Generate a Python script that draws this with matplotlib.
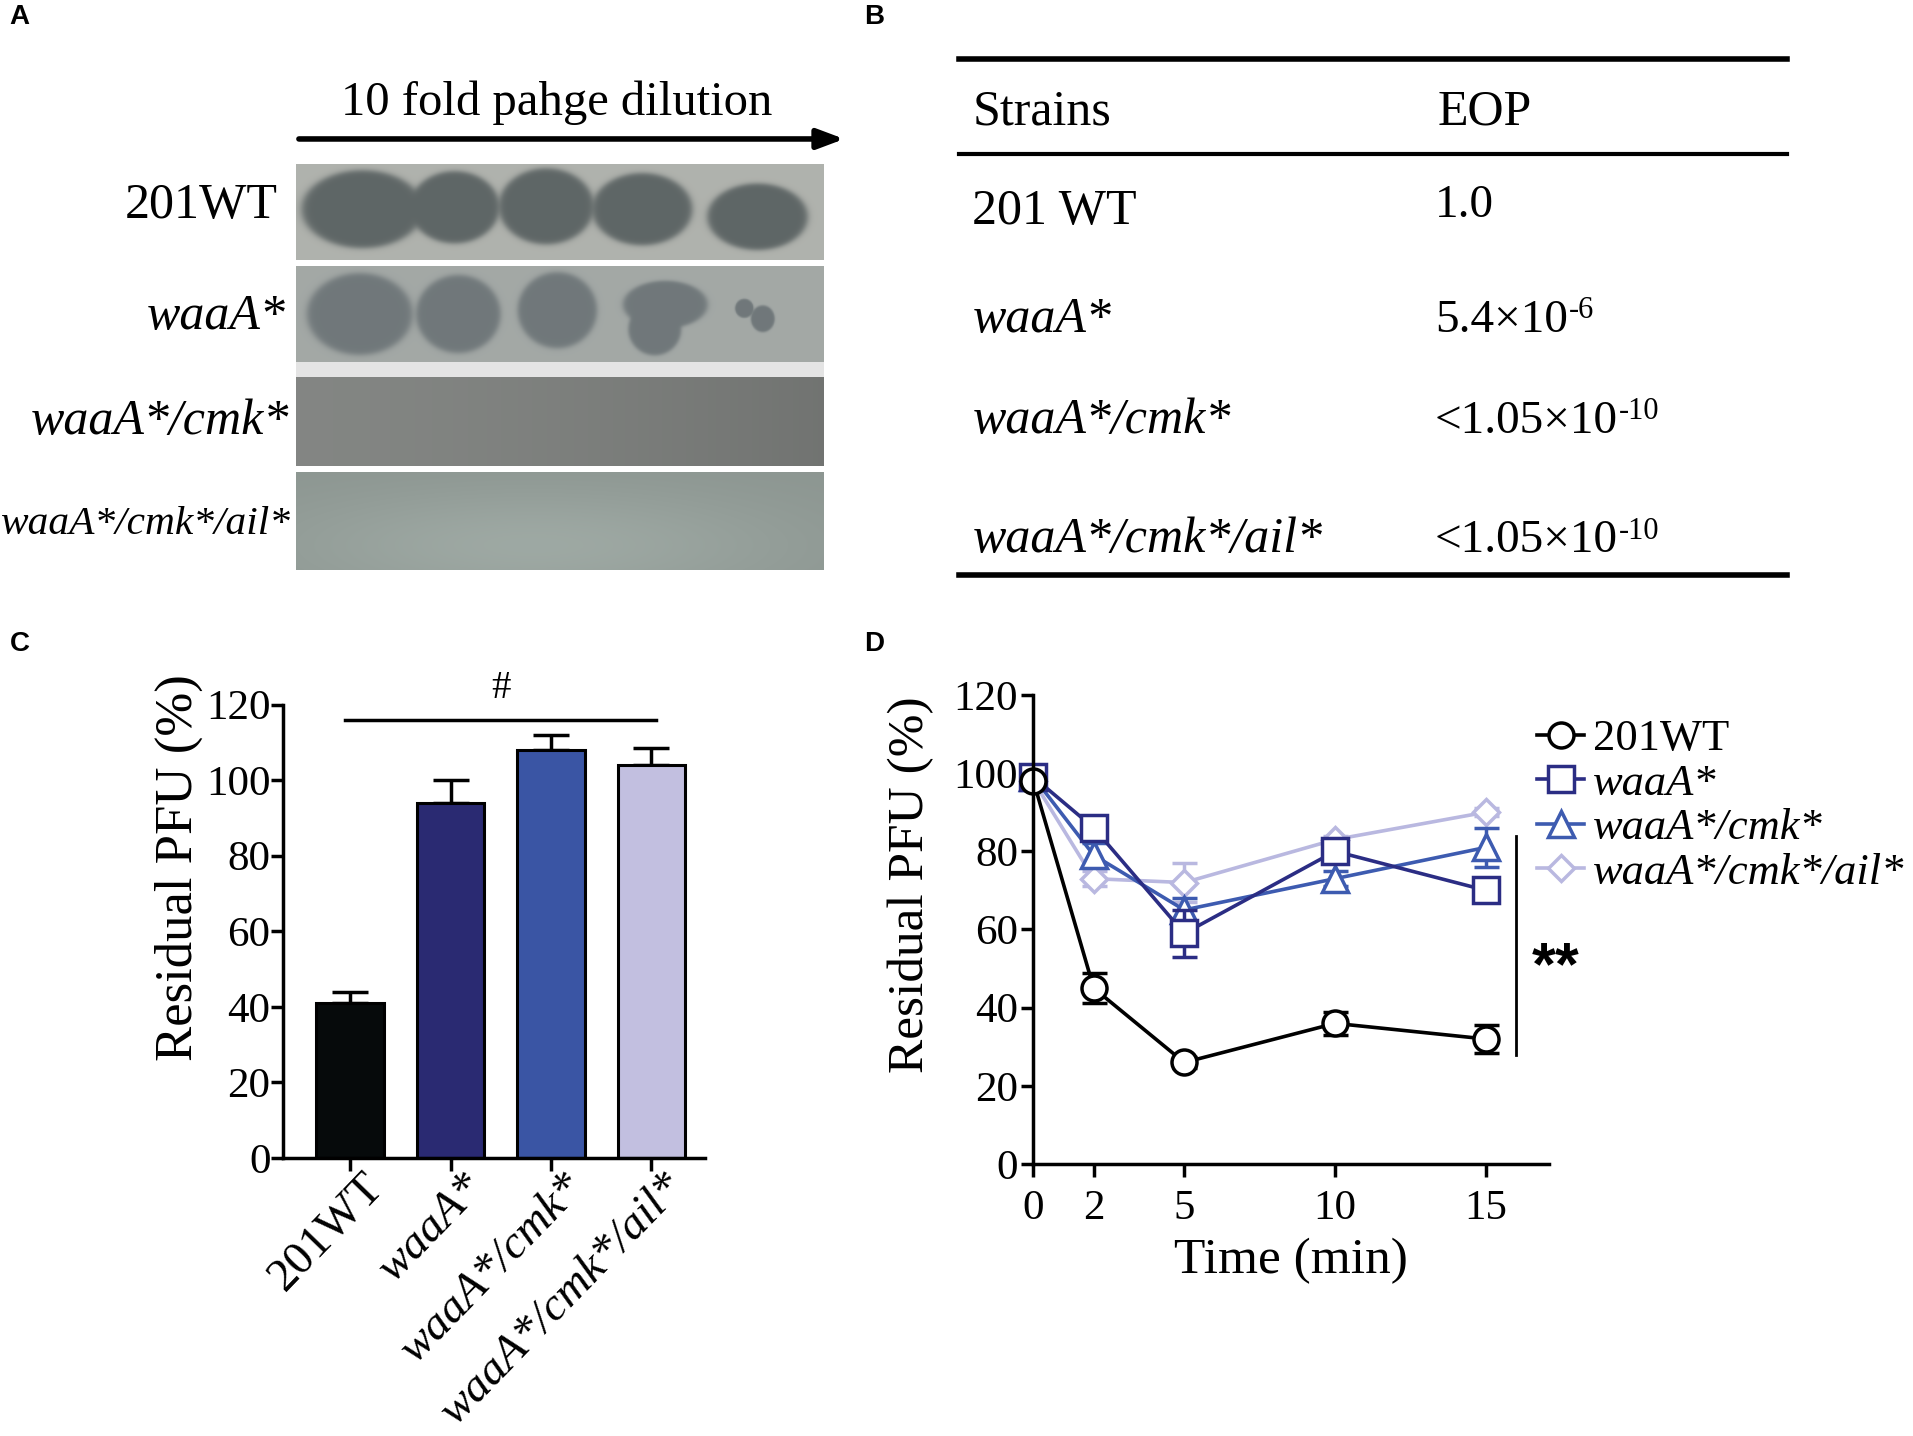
import numpy as np
import matplotlib
matplotlib.use('Agg')
import matplotlib.pyplot as plt
import matplotlib.transforms as mtrans

plt.rcParams['font.family'] = ['Liberation Serif', 'DejaVu Serif']

# ---- panel A: plates (spots = visible plaques per row, relative to the plate)
plate_labels = ['201WT', 'waaA*', 'waaA*/cmk*', 'waaA*/cmk*/ail*']
plate_bg = [(0.69, 0.70, 0.68), (0.64, 0.66, 0.65), (0.50, 0.51, 0.50), (0.59, 0.63, 0.61)]
spot_color = [(0.37, 0.40, 0.40), (0.44, 0.47, 0.48), None, None]
row1_spots = [(0.125, 0.23, 0.47, 0.82), (0.30, 0.17, 0.45, 0.76), (0.474, 0.18, 0.44, 0.80),
              (0.656, 0.19, 0.47, 0.76), (0.875, 0.19, 0.55, 0.70)]
row2_spots = [(0.12, 0.20, 0.50, 0.86), (0.307, 0.16, 0.50, 0.82), (0.495, 0.15, 0.46, 0.80),
              (0.70, 0.16, 0.40, 0.50), (0.68, 0.10, 0.66, 0.55),
              (0.85, 0.035, 0.44, 0.2), (0.885, 0.045, 0.55, 0.28)]
plate_spots = [row1_spots, row2_spots, [], []]

# ---- panel B: EOP table
eop_strains = ['201 WT', 'waaA*', 'waaA*/cmk*', 'waaA*/cmk*/ail*']
eop_values = ['1.0', '5.4×10', '<1.05×10', '<1.05×10']
eop_exponents = ['', '-6', '-10', '-10']

# ---- panel C: residual PFU bars
strains = ['201WT', 'waaA*', 'waaA*/cmk*', 'waaA*/cmk*/ail*']
residual_mean = [41, 94, 108, 104]
residual_err = [3, 6, 4, 4.5]
bar_colors = ['#060a0b', '#2a2a72', '#3a55a4', '#c2bfe0']

# ---- panel D: time course
times = [0, 2, 5, 10, 15]
pfu_wt = [98, 45, 26, 36, 32]
err_wt = [1, 3.9, 1.5, 3, 3.5]
pfu_waaA = [99, 86, 59, 80, 70]
err_waaA = [1, 3, 6, 2, 2]
pfu_cmk = [99, 79, 65, 73, 81]
err_cmk = [1, 3, 3, 2, 5]
pfu_ail = [98, 73, 72, 83, 90]
err_ail = [1, 2, 5, 1, 1]

W, H = 1568, 1178   # layout grid
fig = plt.figure(figsize=(19.13, 14.36), dpi=100)
bg = fig.add_axes([0, 0, 1, 1])
bg.axis('off')

# panel letters
for lab, x, y in [('A', 8, 14), ('B', 708, 14), ('C', 8, 528), ('D', 708, 528)]:
    bg.text(x, y, lab, family='Liberation Sans', fontweight='bold', fontsize=20, va='center')

# --- A
bg.text(456, 94, '10 fold pahge dilution', fontsize=35, ha='center', va='baseline')
bg.annotate('', xy=(692, 114), xytext=(245, 114),
            arrowprops=dict(arrowstyle='-|>,head_length=1.6,head_width=0.6', lw=4, color='black',
                            shrinkA=0, shrinkB=0))
rows_y = [(135, 213), (219, 297), (309, 382), (388, 468)]
label_base = [179, 270, 356, 438]
label_size = [36, 36, 36, 29.8]
label_right = [228, 234, 237, 238]
px0, px1 = 243, 675
bg.fill_between([px0, px1], 297, 309, color='#e4e4e4', lw=0)
for i, (y0, y1) in enumerate(rows_y):
    nx, ny = 432, int(y1 - y0)
    xx, yy = np.meshgrid(np.linspace(0, 1, nx), np.linspace(0, 1, ny))
    img = np.ones((ny, nx, 3)) * np.array(plate_bg[i])
    if i == 2:
        img *= (1.03 - 0.14 * xx ** 1.5)[..., None]
    if i == 3:
        glow = np.exp(-((xx - 0.45) / 0.5) ** 2 - ((yy - 0.75) / 0.6) ** 2)
        img *= (0.93 + 0.12 * glow)[..., None]
    for (rx, rw, ry, rh) in plate_spots[i]:
        r = np.sqrt(((xx - rx) / (rw / 2)) ** 2 + ((yy - ry) / (rh / 2)) ** 2)
        mask = 1 / (1 + np.exp((r - 1) / 0.04))
        img = img * (1 - mask[..., None]) + np.array(spot_color[i]) * mask[..., None]
    bg.imshow(np.clip(img, 0, 1), extent=(px0, px1, y1, y0), aspect='auto', interpolation='bilinear')
    bg.text(label_right[i], label_base[i], plate_labels[i], fontsize=label_size[i],
            ha='right', va='baseline', fontstyle='normal' if i == 0 else 'italic')

# --- B
bg.plot([786, 1465], [48, 48], color='black', lw=4)
bg.plot([786, 1465], [126, 126], color='black', lw=3)
bg.plot([786, 1465], [472, 472], color='black', lw=4)
bg.text(797, 102, 'Strains', fontsize=36, va='baseline')
bg.text(1178, 102, 'EOP', fontsize=36, va='baseline')
name_base = [184, 272, 355, 453]
val_base = [178, 272, 355, 453]
for i in range(4):
    bg.text(797, name_base[i], eop_strains[i], fontsize=36, va='baseline',
            fontstyle='normal' if i == 0 else 'italic')
    t = bg.text(1176, val_base[i], eop_values[i], fontsize=34, va='baseline')
    if eop_exponents[i]:
        bg.annotate(eop_exponents[i], xy=(1, 1), xycoords=t, xytext=(1, 2),
                    textcoords='offset points', fontsize=22, ha='left', va='top')

bg.set_xlim(0, W)
bg.set_ylim(H, 0)

# --- C
axc = fig.add_axes([232 / W, 1 - 950 / H, (578 - 232) / W, (950 - 578) / H])
xpos = np.arange(len(strains))
axc.bar(xpos, residual_mean, width=0.67, color=bar_colors, edgecolor='black', linewidth=2.2, zorder=2)
axc.errorbar(xpos, residual_mean, yerr=[np.zeros(4), residual_err], fmt='none', ecolor='black',
             elinewidth=2.5, capsize=13, capthick=2.5, zorder=1)
axc.set_xlim(-0.668, 3.535)
axc.set_ylim(0, 120)
axc.set_yticks(range(0, 121, 20))
axc.set_xticks(xpos)
axc.tick_params(axis='y', labelsize=31, width=2.5, length=9, pad=0)
axc.tick_params(axis='x', width=2.5, length=9, pad=7)
axc.set_xticklabels(strains, rotation=46, ha='right', va='center', rotation_mode='anchor', fontsize=34)
shift = mtrans.ScaledTranslation(19 / 72, 0, fig.dpi_scale_trans)
for t, lab in zip(axc.get_xticklabels(), strains):
    if lab != '201WT':
        t.set_fontstyle('italic')
    t.set_transform(t.get_transform() + shift)
axc.set_ylabel('Residual PFU (%)', fontsize=38)
axc.yaxis.set_label_coords(-0.19, 0.64)
for sp in ['top', 'right']:
    axc.spines[sp].set_visible(False)
for sp in ['left', 'bottom']:
    axc.spines[sp].set_linewidth(2.5)
axc.plot([-0.05, 3.05], [116, 116], color='black', lw=2.5, clip_on=False)
axc.text(1.5, 119.3, '#', fontsize=28, ha='center', va='bottom', clip_on=False)

# --- D
axd = fig.add_axes([847 / W, 1 - 955 / H, (1270 - 847) / W, (955 - 570) / H])
series = [('201WT', pfu_wt, err_wt, 'black', 'o', 18),
          ('waaA*', pfu_waaA, err_waaA, '#2b2d84', 's', 19),
          ('waaA*/cmk*', pfu_cmk, err_cmk, '#3d5bb0', '^', 19),
          ('waaA*/cmk*/ail*', pfu_ail, err_ail, '#b9b8e0', 'D', 13)]
handles = []
for name, y, e, c, m, ms in reversed(series):
    axd.errorbar(times, y, yerr=e, fmt='none', ecolor=c, elinewidth=2.5, capsize=9,
                 capthick=2.5, clip_on=False)
    h, = axd.plot(times, y, color=c, lw=2.6, marker=m, ms=ms,
                  mfc='white', mec=c, mew=2.5, clip_on=False, label=name)
    handles.append(h)
handles = handles[::-1]
axd.set_xlim(0, 17.1)
axd.set_ylim(0, 120)
axd.set_xticks(times)
axd.set_yticks(range(0, 121, 20))
axd.tick_params(labelsize=31, width=2.5, length=9, pad=2)
axd.tick_params(axis='x', pad=9)
axd.set_xlabel('Time (min)', fontsize=37, labelpad=7)
axd.set_ylabel('Residual PFU (%)', fontsize=37)
axd.yaxis.set_label_coords(-0.192, 0.595)
for sp in ['top', 'right']:
    axd.spines[sp].set_visible(False)
for sp in ['left', 'bottom']:
    axd.spines[sp].set_linewidth(2.5)
axd.plot([16.0, 16.0], [84, 28], color='black', lw=2, clip_on=False)
axd.text(17.3, 50, '**', family='Liberation Sans', fontweight='bold', fontsize=44,
         ha='center', va='center', clip_on=False)
leg = fig.legend(handles=handles, loc='upper left', bbox_to_anchor=(1260 / W, 1 - 590 / H),
                 frameon=False, fontsize=32, handlelength=1.05, handletextpad=0.2,
                 labelspacing=0.1, borderaxespad=0, borderpad=0)
for t, name in zip(leg.get_texts(), [s[0] for s in series]):
    if name != '201WT':
        t.set_fontstyle('italic')

fig.savefig('out.png', dpi=100)
